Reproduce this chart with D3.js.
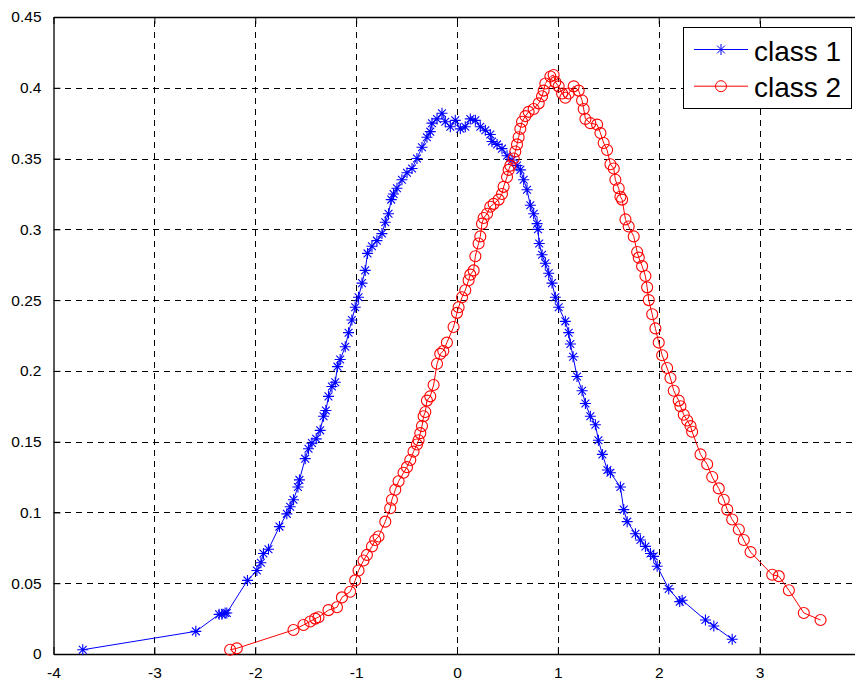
<!DOCTYPE html>
<html>
<head>
<meta charset="utf-8">
<script src="https://cdn.jsdelivr.net/npm/d3@7"></script>
<style>
  body { margin: 0; background: #fff; }
  svg { display: block; font-family: "Liberation Sans", Arial, sans-serif; }
</style>
</head>
<body>
<div id="chart"></div>
<script>

// class 1 (blue, asterisk) : [x, density]
var class1 = [
  [-3.710, 0.003], [-2.589, 0.016], [-2.358, 0.028], [-2.331, 0.028], [-2.299, 0.029], [-2.282, 0.029],
  [-2.077, 0.052], [-1.984, 0.059], [-1.944, 0.0645], [-1.919, 0.071], [-1.869, 0.074], [-1.760, 0.090],
  [-1.687, 0.099], [-1.654, 0.104], [-1.621, 0.109], [-1.577, 0.118], [-1.562, 0.123], [-1.505, 0.138],
  [-1.472, 0.145], [-1.438, 0.149], [-1.396, 0.152], [-1.356, 0.158], [-1.323, 0.168], [-1.300, 0.172],
  [-1.274, 0.182], [-1.240, 0.189], [-1.207, 0.192], [-1.185, 0.203], [-1.158, 0.208], [-1.108, 0.217],
  [-1.075, 0.227], [-1.042, 0.236], [-1.009, 0.245], [-0.976, 0.252], [-0.942, 0.262], [-0.910, 0.271],
  [-0.887, 0.283], [-0.843, 0.288], [-0.794, 0.292], [-0.744, 0.297], [-0.711, 0.305], [-0.679, 0.311],
  [-0.652, 0.321], [-0.629, 0.325], [-0.595, 0.329], [-0.546, 0.335], [-0.496, 0.340], [-0.446, 0.343],
  [-0.397, 0.350], [-0.347, 0.358], [-0.298, 0.365], [-0.265, 0.369], [-0.248, 0.375], [-0.198, 0.378],
  [-0.149, 0.382], [-0.116, 0.376], [-0.066, 0.3725], [-0.017, 0.377], [0.033, 0.371], [0.082, 0.3725],
  [0.132, 0.378], [0.182, 0.377], [0.231, 0.3725], [0.281, 0.370], [0.330, 0.367], [0.347, 0.362],
  [0.397, 0.360], [0.446, 0.357], [0.496, 0.352], [0.546, 0.349], [0.595, 0.345], [0.628, 0.342],
  [0.661, 0.335], [0.694, 0.328], [0.727, 0.317], [0.760, 0.311], [0.794, 0.304], [0.803, 0.300],
  [0.815, 0.290], [0.843, 0.282], [0.876, 0.276], [0.909, 0.269], [0.942, 0.262], [0.975, 0.252],
  [1.008, 0.245], [1.074, 0.235], [1.107, 0.227], [1.124, 0.219], [1.151, 0.210], [1.190, 0.196],
  [1.240, 0.186], [1.273, 0.177], [1.322, 0.168], [1.372, 0.162], [1.402, 0.151], [1.441, 0.141],
  [1.491, 0.130], [1.521, 0.128], [1.620, 0.118], [1.653, 0.102], [1.687, 0.0935], [1.769, 0.085],
  [1.818, 0.0805], [1.868, 0.076], [1.918, 0.071], [1.950, 0.069], [1.984, 0.062], [2.099, 0.046],
  [2.208, 0.037], [2.232, 0.038], [2.463, 0.024], [2.546, 0.0198], [2.728, 0.0104]
];

// class 2 (red, circle) : [x, density]
var class2 = [
  [-2.249, 0.003], [-2.183, 0.004], [-1.621, 0.017], [-1.522, 0.0205], [-1.455, 0.023], [-1.406, 0.025],
  [-1.373, 0.026], [-1.274, 0.031], [-1.190, 0.033], [-1.141, 0.040], [-1.059, 0.044], [-1.009, 0.052],
  [-0.976, 0.059], [-0.927, 0.066], [-0.893, 0.070], [-0.843, 0.076], [-0.811, 0.0805], [-0.778, 0.083],
  [-0.711, 0.0935], [-0.662, 0.103], [-0.645, 0.109], [-0.612, 0.116], [-0.579, 0.122], [-0.530, 0.128],
  [-0.496, 0.132], [-0.463, 0.137], [-0.431, 0.143], [-0.397, 0.148], [-0.381, 0.151], [-0.364, 0.156],
  [-0.347, 0.161], [-0.331, 0.168], [-0.314, 0.171], [-0.298, 0.179], [-0.265, 0.182], [-0.232, 0.190],
  [-0.198, 0.205], [-0.166, 0.212], [-0.136, 0.214], [-0.100, 0.220], [-0.034, 0.231], [0.000, 0.241],
  [0.016, 0.245], [0.050, 0.252], [0.082, 0.257], [0.115, 0.264], [0.132, 0.268], [0.165, 0.271],
  [0.182, 0.281], [0.214, 0.290], [0.231, 0.295], [0.248, 0.304], [0.264, 0.308], [0.298, 0.311],
  [0.330, 0.316], [0.363, 0.318], [0.413, 0.321], [0.446, 0.325], [0.462, 0.330], [0.496, 0.337],
  [0.512, 0.342], [0.529, 0.345], [0.562, 0.350], [0.578, 0.355], [0.595, 0.360], [0.611, 0.365],
  [0.628, 0.371], [0.645, 0.376], [0.678, 0.380], [0.710, 0.383], [0.760, 0.385], [0.810, 0.389],
  [0.843, 0.394], [0.859, 0.398], [0.876, 0.403], [0.926, 0.408], [0.958, 0.409], [0.975, 0.404],
  [1.008, 0.401], [1.042, 0.396], [1.074, 0.393], [1.107, 0.396], [1.157, 0.401], [1.206, 0.398],
  [1.240, 0.391], [1.256, 0.385], [1.273, 0.378], [1.322, 0.375], [1.389, 0.374], [1.422, 0.368],
  [1.454, 0.361], [1.488, 0.356], [1.521, 0.346], [1.554, 0.343], [1.570, 0.335], [1.603, 0.329],
  [1.620, 0.323], [1.637, 0.321], [1.670, 0.307], [1.702, 0.302], [1.752, 0.295], [1.786, 0.284],
  [1.802, 0.280], [1.835, 0.274], [1.868, 0.267], [1.885, 0.259], [1.901, 0.250], [1.935, 0.240],
  [1.967, 0.230], [2.000, 0.220], [2.034, 0.211], [2.083, 0.202], [2.116, 0.195], [2.149, 0.186],
  [2.198, 0.179], [2.215, 0.175], [2.248, 0.169], [2.282, 0.165], [2.315, 0.161], [2.331, 0.157],
  [2.414, 0.141], [2.480, 0.134], [2.530, 0.125], [2.595, 0.117], [2.645, 0.109], [2.679, 0.102],
  [2.728, 0.095], [2.794, 0.088], [2.843, 0.0805], [2.910, 0.072], [3.125, 0.056], [3.190, 0.055],
  [3.290, 0.045], [3.438, 0.029], [3.604, 0.024]
];

var xTicks = [-4, -3, -2, -1, 0, 1, 2, 3];
var yTicks = [0, 0.05, 0.1, 0.15, 0.2, 0.25, 0.3, 0.35, 0.4, 0.45];
var seriesNames = ["class 1", "class 2"];
var seriesColors = ["#0000ff", "#ff0000"];

const W = 855, H = 681;
const margin = {top: 17, left: 53.5, bottom: 27, right: -5.5};

const svg = d3.select("#chart")
    .append("svg")
    .attr("width", W)
    .attr("height", H);

var xScale = d3.scaleLinear()
    .domain([-4, 4])
    .range([margin.left, W - margin.right]);

var yScale = d3.scaleLinear()
    .domain([0, 0.45])
    .range([H - margin.bottom, margin.top]);

var x0 = xScale.range()[0], x1 = xScale.range()[1];
var y0 = yScale.range()[0], y1 = yScale.range()[1];

// grid
var grid = svg.append("g").attr("class", "grid")
    .style("stroke", "#000")
    .style("stroke-width", 1)
    .style("stroke-dasharray", "6,5")
    .style("shape-rendering", "crispEdges");

grid.selectAll("line.gx")
    .data(xTicks.slice(1))
    .enter().append("line")
    .attr("class", "gx")
    .attr("x1", function (d) { return Math.round(xScale(d)) + 0.5; })
    .attr("x2", function (d) { return Math.round(xScale(d)) + 0.5; })
    .attr("y1", y0)
    .attr("y2", y1);

grid.selectAll("line.gy")
    .data(yTicks.slice(1, -1))
    .enter().append("line")
    .attr("class", "gy")
    .attr("y1", function (d) { return Math.round(yScale(d)) + 0.5; })
    .attr("y2", function (d) { return Math.round(yScale(d)) + 0.5; })
    .attr("x1", x0)
    .attr("x2", x1);

// axes
var hyphen = function (d) { return String(+d.toFixed(2)).replace("\u2212", "-"); };

var xAxis = svg.append("g")
    .attr("transform", "translate(0," + y0 + ")")
    .call(d3.axisBottom(xScale).tickValues(xTicks).tickSizeInner(-7).tickSizeOuter(0).tickPadding(13)
        .tickFormat(hyphen));

var xAxisTop = svg.append("g")
    .attr("transform", "translate(0," + y1 + ")")
    .call(d3.axisTop(xScale).tickValues(xTicks).tickSizeInner(-7).tickSizeOuter(0).tickFormat(""));

var yAxis = svg.append("g")
    .attr("transform", "translate(" + x0 + ",0)")
    .call(d3.axisLeft(yScale).tickValues(yTicks).tickSizeInner(-7).tickSizeOuter(0).tickPadding(12)
        .tickFormat(hyphen));

[xAxis, xAxisTop, yAxis].forEach(function (a) {
    a.select(".domain").style("stroke", "#000").style("stroke-width", 1.3);
    a.selectAll(".tick line").style("stroke", "#000");
    a.selectAll("text")
        .style("font-family", "'Liberation Sans', Arial, sans-serif")
        .style("font-size", "15.5px")
        .style("fill", "#000");
});

// lines
var line = d3.line()
    .x(function (d) { return xScale(d[0]); })
    .y(function (d) { return yScale(d[1]); });

var star = "M-5.5,0L5.5,0M0,-5.5L0,5.5M-3.9,-3.9L3.9,3.9M-3.9,3.9L3.9,-3.9";

function drawSeries(data, i) {
    var g = svg.append("g").attr("class", "series-" + i);
    g.append("path")
        .datum(data)
        .attr("d", line)
        .style("fill", "none")
        .style("stroke", seriesColors[i])
        .style("stroke-width", 1);

    if (i === 0) {
        g.selectAll("path.mk")
            .data(data)
            .enter().append("path")
            .attr("class", "mk")
            .attr("transform", function (d) { return "translate(" + xScale(d[0]) + "," + yScale(d[1]) + ")"; })
            .attr("d", star)
            .style("stroke", seriesColors[i])
            .style("stroke-width", 1.1)
            .style("fill", "none");
    } else {
        g.selectAll("circle.mk")
            .data(data)
            .enter().append("circle")
            .attr("class", "mk")
            .attr("cx", function (d) { return xScale(d[0]); })
            .attr("cy", function (d) { return yScale(d[1]); })
            .attr("r", 5.5)
            .style("stroke", seriesColors[i])
            .style("stroke-width", 1.1)
            .style("fill", "none");
    }
}

drawSeries(class1, 0);
drawSeries(class2, 1);

// legend
var legend = svg.append("g").attr("class", "legend");

legend.append("rect")
    .attr("x", 683.5)
    .attr("y", 27.5)
    .attr("width", 168)
    .attr("height", 81)
    .style("fill", "#fff")
    .style("stroke", "#000")
    .style("stroke-width", 1);

var items = legend.selectAll("g.item")
    .data(seriesNames)
    .enter().append("g")
    .attr("class", "item")
    .attr("transform", function (d, i) { return "translate(694," + (49.5 + i * 36.7) + ")"; });

items.append("line")
    .attr("x1", 0).attr("x2", 54)
    .attr("y1", 0).attr("y2", 0)
    .style("stroke", function (d, i) { return seriesColors[i]; })
    .style("stroke-width", 1);

items.each(function (d, i) {
    var it = d3.select(this);
    if (i === 0) {
        it.append("path").attr("transform", "translate(27,0)").attr("d", star)
            .style("stroke", seriesColors[i]).style("fill", "none");
    } else {
        it.append("circle").attr("cx", 27).attr("cy", 0).attr("r", 5.5)
            .style("stroke", seriesColors[i]).style("fill", "none");
    }
});

items.append("text")
    .attr("x", 60)
    .attr("y", 11)
    .style("font-size", "28px")
    .style("fill", "#000")
    .text(function (d) { return d; });

</script>
</body>
</html>
